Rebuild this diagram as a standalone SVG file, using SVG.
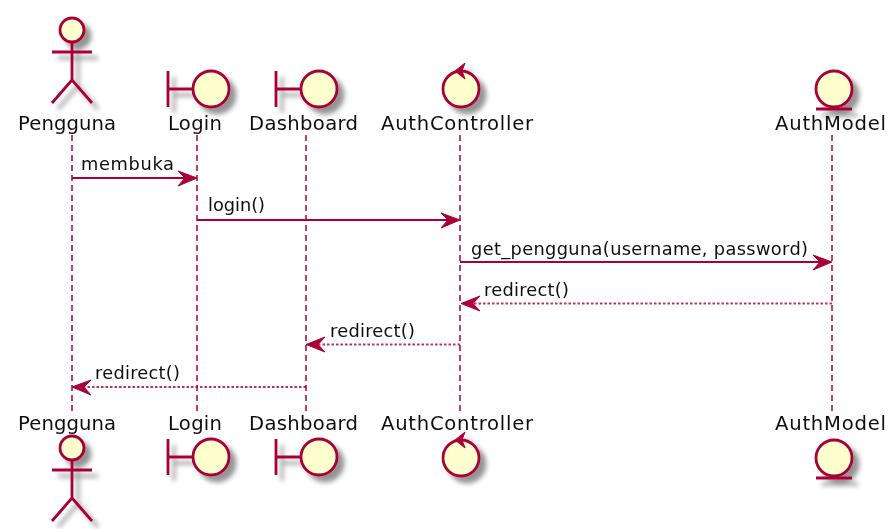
<svg xmlns="http://www.w3.org/2000/svg" width="889" height="529" viewBox="0 0 889 529">
<style>
text{font-family:"DejaVu Sans",sans-serif;fill:#111}
.n{font-size:19.6px}
.m{font-size:17.8px}
.s{fill:none;stroke:#A80036;stroke-width:2.8}
.c{fill:#FEFECE;stroke:#A80036;stroke-width:2.8}
.life{stroke:#A80036;stroke-width:2;stroke-dasharray:6 4;opacity:.75;fill:none}
.solid{stroke:#A80036;stroke-width:2.2;fill:none}
.dot{stroke:#A80036;stroke-width:2.2;stroke-dasharray:2.5 2;fill:none;opacity:.8}
.sh{filter:url(#shadow)}
.head{fill:#A80036;stroke:#A80036;stroke-width:1}
</style>
<defs>
<filter id="blur" filterUnits="userSpaceOnUse" x="0" y="0" width="889" height="529"><feGaussianBlur stdDeviation="0.7"/></filter>
<filter id="shadow" x="-30%" y="-30%" width="170%" height="170%">
<feGaussianBlur in="SourceAlpha" stdDeviation="2.6" result="b"/>
<feOffset in="b" dx="6" dy="6" result="o"/>
<feComponentTransfer in="o" result="f"><feFuncA type="linear" slope="0.42"/></feComponentTransfer>
<feMerge><feMergeNode in="f"/><feMergeNode in="SourceGraphic"/></feMerge>
</filter>
<g id="actor"><circle class="c" cx="0" cy="0" r="12"/><path class="s" d="M0 12V50M-20 22H20M-20 73L0 50L20 73"/></g>
<g id="boundary"><path class="s" d="M-43 -18V18M-43 0H-18"/><circle class="c" cx="0" cy="0" r="18"/></g>
<g id="control"><circle class="c" cx="0" cy="0" r="18"/><path class="head" d="M4 -26L-6 -18L4 -10L1 -18Z"/></g>
<g id="entity"><circle class="c" cx="0" cy="0" r="18"/><path class="s" d="M-18 20H18" style="stroke-width:3.2"/></g>
</defs>
<rect width="889" height="529" fill="#fff"/>
<g filter="url(#blur)">
<g id="connectors">
<path class="life" d="M72 135V413"/>
<path class="life" d="M197 135V413"/>
<path class="life" d="M306 135V413"/>
<path class="life" d="M460 135V413"/>
<path class="life" d="M832 135V413"/>
<path class="solid" d="M72 178H186"/><path class="head" d="M197 178L178 171L185 178L178 186Z"/>
<text class="m" x="81" y="170" textLength="93" lengthAdjust="spacing">membuka</text>
<path class="solid" d="M197 220H449"/><path class="head" d="M460 220L441 213L448 220L441 228Z"/>
<text class="m" x="208" y="211" textLength="57" lengthAdjust="spacing">login()</text>
<path class="solid" d="M460 262H821"/><path class="head" d="M832 262L813 255L820 262L813 270Z"/>
<text class="m" x="471" y="255" textLength="337" lengthAdjust="spacing">get_pengguna(username, password)</text>
<path class="dot" d="M832 303.500H473"/><path class="head" d="M461 303.500L480 296L473 303.500L480 311Z"/>
<text class="m" x="484" y="296" textLength="85" lengthAdjust="spacing">redirect()</text>
<path class="dot" d="M460 344.500H318"/><path class="head" d="M306 344.500L325 337L318 344.500L325 352Z"/>
<text class="m" x="330" y="337" textLength="85" lengthAdjust="spacing">redirect()</text>
<path class="dot" d="M306 387H84"/><path class="head" d="M72 387L91 380L84 387L91 395Z"/>
<text class="m" x="95" y="379" textLength="85" lengthAdjust="spacing">redirect()</text>
</g>
<g id="pengguna-top"><use class="sh" href="#actor" x="72" y="30"/><text class="n" x="18" y="130" textLength="98" lengthAdjust="spacing">Pengguna</text></g>
<g id="login-top"><use class="sh" href="#boundary" x="211" y="89"/><text class="n" x="168" y="130" textLength="54" lengthAdjust="spacing">Login</text></g>
<g id="dashboard-top"><use class="sh" href="#boundary" x="319" y="89"/><text class="n" x="249" y="130" textLength="109" lengthAdjust="spacing">Dashboard</text></g>
<g id="authcontroller-top"><use class="sh" href="#control" x="461" y="89"/><text class="n" x="381" y="130" textLength="152" lengthAdjust="spacing">AuthController</text></g>
<g id="authmodel-top"><use class="sh" href="#entity" x="834" y="89"/><text class="n" x="775" y="130" textLength="111" lengthAdjust="spacing">AuthModel</text></g>
<g id="pengguna-bottom"><text class="n" x="18" y="430" textLength="98" lengthAdjust="spacing">Pengguna</text><use class="sh" href="#actor" x="72" y="448"/></g>
<g id="login-bottom"><text class="n" x="168" y="430" textLength="54" lengthAdjust="spacing">Login</text><use class="sh" href="#boundary" x="211" y="457"/></g>
<g id="dashboard-bottom"><text class="n" x="249" y="430" textLength="109" lengthAdjust="spacing">Dashboard</text><use class="sh" href="#boundary" x="319" y="457"/></g>
<g id="authcontroller-bottom"><text class="n" x="381" y="430" textLength="152" lengthAdjust="spacing">AuthController</text><use class="sh" href="#control" x="461" y="458"/></g>
<g id="authmodel-bottom"><text class="n" x="775" y="430" textLength="111" lengthAdjust="spacing">AuthModel</text><use class="sh" href="#entity" x="834" y="458"/></g>
</g>
</svg>
